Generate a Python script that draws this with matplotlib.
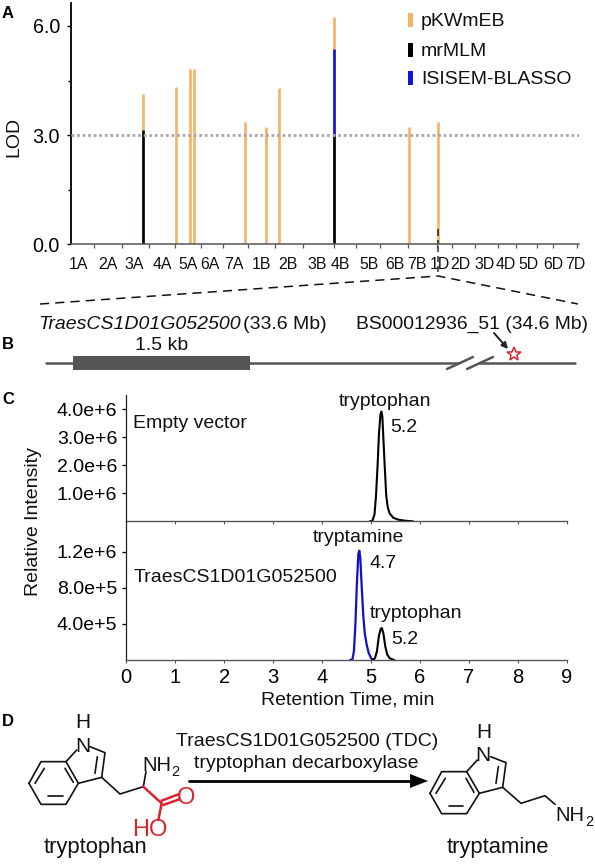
import matplotlib
matplotlib.use("Agg")
import matplotlib.pyplot as plt
from matplotlib.patches import Rectangle, Polygon, FancyArrowPatch
from matplotlib.lines import Line2D

plt.rcParams['font.family'] = ['Liberation Sans', 'DejaVu Sans']
W, H = 595, 867

# ---------- Panel A data ----------
chromosomes = ['1A','2A','3A','4A','5A','6A','7A','1B','2B','3B','4B','5B','6B','7B','1D','2D','3D','4D','5D','6D','7D']
chrom_ends = [94,122,149,175,201,223,248,275,303,334,356,380,408,437,452,475,498,516,537,553,577]
label_pos = [78,108,134,162,188,210,234,261,288,317,340,369,395,417,440,460,485,506,528,553,575]
snp_pos = [142.5,175.5,190,194,245,266,279,334,409,437.5]
pkwmeb_lod = [4.12,4.33,4.81,4.81,3.37,3.23,4.29,6.25,3.23,3.35]
mrmlm_lod = [3.14,0,0,0,0,0,0,3.0,0,0]
isisem_lod = [0,0,0,0,0,0,0,5.36,0,0]
dash_pos = 437.5
dash_segments = [(0.0,0.12),(0.22,0.42)]
threshold = 3.0

# ---------- Panel C data ----------
t_top = [4.98,5.03,5.07,5.10,5.13,5.16,5.19,5.21,5.23,5.25,5.28,5.31,5.34,5.38,5.45,5.55,5.70,5.85]
i_top = [0,0.03,0.25,0.9,1.9,3.1,3.8,3.92,3.75,3.0,1.9,0.9,0.5,0.28,0.13,0.06,0.02,0]
t_blue = [4.58,4.62,4.65,4.68,4.71,4.74,4.76,4.78,4.81,4.84,4.87,4.91,4.95,5.0,5.05]
i_blue = [0,0.01,0.1,0.4,0.85,1.18,1.215,1.13,0.8,0.5,0.3,0.17,0.08,0.02,0]
t_black = [5.02,5.08,5.12,5.16,5.20,5.22,5.25,5.29,5.33,5.38,5.47]
i_black = [0,0.02,0.1,0.27,0.35,0.355,0.3,0.15,0.06,0.02,0]

ORANGE = '#f5b365'; BLUE = '#1414e0'; BLACK = '#000000'; GREY = '#555555'; RED = '#d9232e'

fig = plt.figure(figsize=(W/100, H/100), dpi=100)

def axes_px(l, t, r, b, **kw):
    return fig.add_axes([l/W, 1-b/H, (r-l)/W, (b-t)/H], **kw)

# ---------- Panel A ----------
a = axes_px(71, 3, 579, 244.3)
a.set_xlim(71, 579)
a.set_ylim(0, (244.3-3)/36.4)
LW = 1.9
for x, p, m, s in zip(snp_pos, pkwmeb_lod, mrmlm_lod, isisem_lod):
    a.vlines(x, 0, p, color=ORANGE, lw=LW)
    if s: a.vlines(x, m, s, color=BLUE, lw=LW)
    if m: a.vlines(x, 0, m, color=BLACK, lw=LW)
for lo, hi in dash_segments:
    a.vlines(dash_pos, lo, hi, color='#3a2a20', lw=1.2)
a.axhline(threshold, color='#a8a8a8', lw=2, ls=(0, (1, 1)), zorder=3)
for s in ['top', 'right']: a.spines[s].set_visible(False)
a.spines['left'].set_linewidth(1.3)
a.spines['bottom'].set_color(GREY); a.spines['bottom'].set_linewidth(1.1)
a.set_yticks([0, 3, 6]); a.set_yticklabels(['0.0', '3.0', '6.0'], fontsize=14.2)
a.set_yticks([1.5, 4.5], minor=True)
a.tick_params(axis='y', which='major', length=3, width=1, pad=5)
a.tick_params(axis='y', which='minor', length=2, width=1)
a.set_xticks(chrom_ends); a.set_xticklabels([])
a.tick_params(axis='x', length=3.2, width=0.9, color=GREY)

# ---------- Panel C ----------
c1 = axes_px(126.2, 395, 567, 521.3)
c1.set_xlim(0, 9); c1.set_ylim(0, (521.3-395)/28)
c1.plot(t_top, i_top, color='black', lw=1.5)
c1.set_yticks([1, 2, 3, 4]); c1.set_yticklabels(['1.0e+6', '2.0e+6', '3.0e+6', '4.0e+6'], fontsize=14)
c1.set_xticks(range(1, 10)); c1.set_xticklabels([])
c1.tick_params(axis='y', length=3, width=0.9, pad=3.5)
c1.tick_params(axis='x', length=2, width=0.8, color=GREY)

c2 = axes_px(126.2, 521.3, 567, 660)
c2.set_xlim(0, 9); c2.set_ylim(0, (660-521.3)/36*0.4)
c2.plot(t_blue, i_blue, color='#1010c8', lw=1.6)
c2.plot(t_black, i_black, color='black', lw=1.5)
c2.set_yticks([0.4, 0.8, 1.2]); c2.set_yticklabels(['4.0e+5', '8.0e+5', '1.2e+6'], fontsize=14)
c2.set_xticks(range(0, 10)); c2.set_xticklabels([str(i) for i in range(10)], fontsize=14.5)
c2.tick_params(axis='y', length=3, width=0.9, pad=3.5)
c2.tick_params(axis='x', length=2.5, width=0.8, color=GREY, pad=3)
for ax in (c1, c2):
    for s in ['top', 'right']: ax.spines[s].set_visible(False)
    ax.spines['left'].set_linewidth(0.9); ax.spines['left'].set_color('#222222')
    ax.spines['bottom'].set_linewidth(1.0); ax.spines['bottom'].set_color(GREY)
    ax.patch.set_alpha(0)

# ---------- Pixel overlay ----------
o = fig.add_axes([0, 0, 1, 1], facecolor='none')
o.set_xlim(0, W); o.set_ylim(H, 0); o.axis('off')

def T(x, y, s, size=14, ha='left', va='center_baseline', **kw):
    kw.setdefault('color', '#111111')
    return o.text(x, y, s, fontsize=size, ha=ha, va=va, **kw)

def L(pts, color='#111111', lw=1.2, **kw):
    xs, ys = zip(*pts)
    o.add_line(Line2D(xs, ys, color=color, lw=lw, solid_capstyle='round', **kw))

for x, y, s in [(2, 12, 'A'), (2, 343, 'B'), (2, 398, 'C'), (2, 720, 'D')]:
    T(x, y, s, size=12, weight='bold', color='black')

T(13.5, 136.7, 'LOD', rotation=90, ha='center', va='center')
for x, s in zip(label_pos, chromosomes):
    T(x, 263, s, size=11.4, ha='center')

# legend
for y, name, col in [(20, 'pKWmEB', ORANGE), (50, 'mrMLM', BLACK), (78, 'ISISEM-BLASSO', BLUE)]:
    o.add_patch(Rectangle((407.5, y-7), 5, 14, color=col, lw=0))
    T(421, y, name, size=14)

# zoom dashes
o.add_line(Line2D([438, 438], [246, 275], color='#333333', lw=1.1, ls=(0, (4, 2.5))))
L([(40, 304), (438, 276), (578, 304)], lw=1.1, ls=(0, (6, 4)))

# Panel B
T(38, 322.7, 'TraesCS1D01G052500', style='italic')
T(243, 322.7, '(33.6 Mb)')
T(355.5, 322.7, 'BS00012936_51 (34.6 Mb)', size=13.9)
T(162, 344, '1.5 kb', ha='center')
L([(46, 362.7), (458, 362.7)], color=GREY, lw=1.8)
L([(479, 362.7), (575, 362.7)], color=GREY, lw=1.8)
o.add_patch(Rectangle((73, 356), 177, 14, color=GREY, lw=0))
L([(447, 369), (473, 357)], color=GREY, lw=1.8)
L([(467, 369), (493, 357)], color=GREY, lw=1.8)
o.add_patch(FancyArrowPatch((494, 333), (508, 349), arrowstyle='-|>', mutation_scale=9, color='#222222', lw=1.4, shrinkA=0, shrinkB=0))
o.plot([513.5], [353.5], marker='*', ms=10.5, mfc='white', mec=RED, mew=1.1, ls='none')

# Panel C texts
T(33.5, 521.7, 'Relative Intensity', rotation=90, ha='center', va='center')
T(348, 698, 'Retention Time, min', ha='center')
T(385, 399, 'tryptophan', ha='center')
T(390.5, 426, '5.2')
T(133, 421.7, 'Empty vector')
T(358.5, 536, 'tryptamine', ha='center')
T(369, 562, '4.7')
T(134, 575, 'TraesCS1D01G052500')
T(416, 611, 'tryptophan', ha='center')
T(391, 638, '5.2')

# Panel D
T(307, 739, 'TraesCS1D01G052500 (TDC)', ha='center')
T(306, 761, 'tryptophan decarboxylase', ha='center')
L([(189, 781), (414, 781)], color='black', lw=2.0)
o.add_patch(Polygon([(410, 774), (428, 781), (410, 788)], closed=True, color='black', lw=0))
T(95, 845, 'tryptophan', size=15.8, ha='center')
T(498, 845, 'tryptamine', size=15.8, ha='center')

def z1(p): return (10 + p[0]/3, 705 + p[1]/3)
def z2(p): return (420 + p[0]/3, 715 + p[1]/3)

def ring(f, b):
    L([f(p) for p in b] + [f(b[0])])

# tryptophan
ring(z1, [(57,235),(93,170),(168,170),(205,235),(168,298),(93,298)])
L([z1((168,170)), z1((200,135))]); L([z1((240,125)), z1((285,143)), z1((275,217)), z1((205,235))])
L([z1((75,235)), z1((103,190))]); L([z1((115,272)), z1((158,272))]); L([z1((165,190)), z1((190,232))])
L([z1((262,155)), z1((255,205))])
L([z1((275,217)), z1((330,267)), z1((400,245))])
L([z1((400,245)), z1((408,200))])
L([z1((400,245)), z1((455,295))], color=RED, lw=1.8)
L([z1((455,287)), z1((505,268))], color=RED, lw=1.8); L([z1((460,300)), z1((510,282))], color=RED, lw=1.8)
L([z1((455,295)), z1((445,345))], color=RED, lw=1.8)
T(*z1((217,45)), 'H', ha='center', size=15)
T(*z1((218,118)), 'N', ha='center', size=15)
T(*z1((396,175)), 'NH', ha='left', size=14.5)
T(*z1((497,197)), '2', size=10.5, ha='center')
T(*z1((528,272)), 'O', ha='center', color=RED, size=17)
T(*z1((420,366)), 'HO', ha='center', color=RED, size=17)

# tryptamine
ring(z2, [(30,235),(65,170),(140,170),(178,235),(140,296),(65,296)])
L([z2((140,170)), z2((172,135))]); L([z2((212,125)), z2((258,143)), z2((248,217)), z2((178,235))])
L([z2((48,235)), z2((76,190))]); L([z2((88,272)), z2((130,272))]); L([z2((138,190)), z2((162,232))])
L([z2((235,155)), z2((228,205))])
L([z2((248,217)), z2((303,265)), z2((375,242)), z2((405,268))])
T(*z2((190,45)), 'H', ha='center', size=15)
T(*z2((190,115)), 'N', ha='center', size=15)
T(*z2((406,295)), 'NH', ha='left', size=14.5)
T(*z2((507,318)), '2', size=10.5, ha='center')

fig.savefig('out.png', dpi=100)
